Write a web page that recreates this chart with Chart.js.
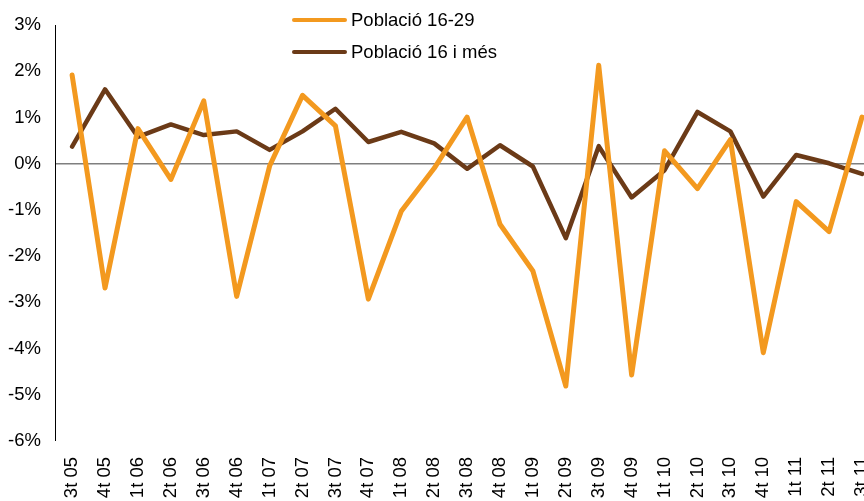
<!DOCTYPE html>
<html lang="ca">
<head>
<meta charset="UTF-8">
<title>Població 16-29 / 16 i més</title>
<script src="https://cdn.jsdelivr.net/npm/chart.js"></script>
<style>
  html, body { margin: 0; padding: 0; background: #fff; }
  .wrap { position: relative; width: 864px; height: 501px; overflow: hidden; }
  #legend { position: absolute; left: 292px; top: 6px; font: 18.5px "Liberation Sans", Arial, sans-serif; color: #000; }
  #legend .item { display: flex; align-items: center; height: 28px; margin-bottom: 4px; }
  #legend .swatch { width: 55px; height: 4px; border-radius: 2px; margin-right: 4px; }
</style>
</head>
<body>
<div class="wrap">
  <canvas id="chart" width="864" height="501"></canvas>
  <div id="legend"></div>
</div>

<script>
// quarters
const categories = ['3t 05', '4t 05', '1t 06', '2t 06', '3t 06', '4t 06', '1t 07', '2t 07', '3t 07', '4t 07',
  '1t 08', '2t 08', '3t 08', '4t 08', '1t 09', '2t 09', '3t 09', '4t 09', '1t 10', '2t 10',
  '3t 10', '4t 10', '1t 11', '2t 11', '3t 11'];

// % change
const pop1629 = [1.92, -2.69, 0.76, -0.34, 1.36, -2.87, -0.05, 1.48, 0.82, -2.93,
  -1.03, -0.1, 1.01, -1.31, -2.32, -4.81, 2.13, -4.57, 0.28, -0.54,
  0.52, -4.09, -0.82, -1.47, 1.01];
const pop16mes = [0.37, 1.61, 0.58, 0.85, 0.62, 0.70, 0.30, 0.70, 1.19, 0.47,
  0.69, 0.44, -0.11, 0.40, -0.06, -1.61, 0.38, -0.73, -0.14, 1.12,
  0.70, -0.71, 0.19, 0.01, -0.22];

const seriesNames = ['Població 16-29', 'Població 16 i més'];
const seriesColors = ['#F3991F', '#6B3A17'];
const yTicks = [3, 2, 1, 0, -1, -2, -3, -4, -5, -6];

const FONT = '"Liberation Sans", Arial, sans-serif';

function toPoints(arr) {
  return arr.map((v, i) => ({ x: i, y: v }));
}

const datasets = [pop1629, pop16mes].map((arr, k) => ({
  label: seriesNames[k],
  data: toPoints(arr),
  borderColor: seriesColors[k],
  borderWidth: k === 0 ? 5 : 4.5,
  borderJoinStyle: 'round',
  borderCapStyle: 'round',
  pointRadius: 0,
  tension: 0,
  fill: false
}));

// legend (two stacked rows, as in the original)
const legendEl = document.getElementById('legend');
datasets.forEach(ds => {
  const row = document.createElement('div');
  row.className = 'item';
  const sw = document.createElement('span');
  sw.className = 'swatch';
  sw.style.background = ds.borderColor;
  const txt = document.createElement('span');
  txt.textContent = ds.label;
  row.appendChild(sw);
  row.appendChild(txt);
  legendEl.appendChild(row);
});

new Chart(document.getElementById('chart'), {
  type: 'line',
  data: { datasets: datasets },
  options: {
    responsive: false,
    animation: false,
    layout: { padding: { top: 23, right: 0, left: 0, bottom: 0 } },
    plugins: { legend: { display: false }, tooltip: { enabled: false } },
    scales: {
      x: {
        type: 'linear',
        min: -0.52,
        max: 24.06,
        afterBuildTicks: scale => { scale.ticks = categories.map((c, i) => ({ value: i })); },
        afterFit: scale => { scale.height = 60; scale.paddingLeft = 0; scale.paddingRight = 0; },
        grid: { display: false },
        border: { display: false },
        ticks: {
          autoSkip: false,
          minRotation: 90,
          maxRotation: 90,
          padding: 8,
          color: '#000',
          font: { family: FONT, size: 18.5 },
          callback: v => categories[Math.round(v)]
        }
      },
      y: {
        min: -6,
        max: 3,
        afterBuildTicks: scale => { scale.ticks = yTicks.map(v => ({ value: v })); },
        afterFit: scale => { scale.width = 55; },
        border: { display: true, color: '#000', width: 1 },
        grid: {
          drawTicks: false,
          color: ctx => ctx.tick && ctx.tick.value === 0 ? '#7f7f7f' : 'rgba(0,0,0,0)',
          lineWidth: ctx => ctx.tick && ctx.tick.value === 0 ? 1.5 : 0
        },
        ticks: {
          padding: 14,
          color: '#000',
          font: { family: FONT, size: 18.5 },
          callback: v => v + '%'
        }
      }
    }
  }
});
</script>
</body>
</html>
